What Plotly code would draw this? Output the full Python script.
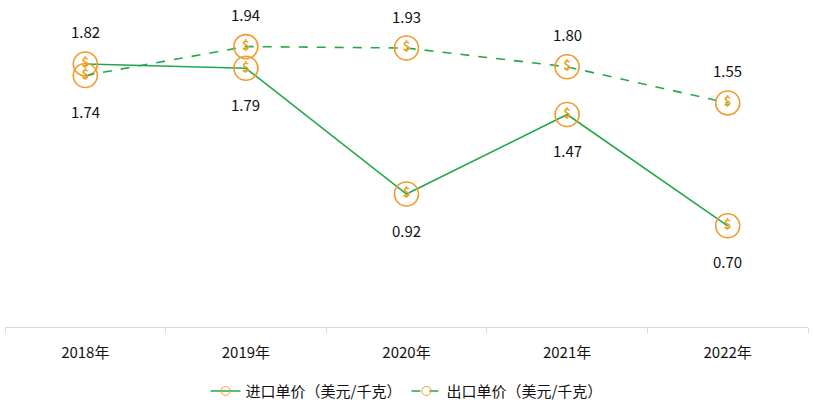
import plotly.graph_objs as go

years = ["2018年", "2019年", "2020年", "2021年", "2022年"]
import_price = [1.82, 1.79, 0.92, 1.47, 0.70]
export_price = [1.74, 1.94, 1.93, 1.80, 1.55]
import_label_up = [True, False, False, False, False]
export_label_up = [False, True, True, True, True]

green = "#22a84a"
orange = "#f39a2b"
font = "Noto Sans CJK SC"

fig = go.Figure()
for name, vals, dash, ups in [
    ("进口单价（美元/千克）", import_price, "solid", import_label_up),
    ("出口单价（美元/千克）", export_price, "dash", export_label_up),
]:
    fig.add_trace(go.Scatter(
        x=years, y=vals, mode="lines+markers+text", showlegend=False, cliponaxis=False,
        line=dict(color=green, width=1.6, dash=dash),
        marker=dict(symbol="circle-open", size=24, color=orange, line=dict(width=1.6)),
        text=["<b>$</b>"] * len(vals), textposition="middle center",
        textfont=dict(color="#eda320", size=13, family=font),
    ))
    # legend entry with small marker
    fig.add_trace(go.Scatter(
        x=[None], y=[None], name=name, mode="lines+markers",
        line=dict(color=green, width=1.6, dash=dash),
        marker=dict(symbol="circle-open", size=9, color=orange, line=dict(width=1)),
    ))
    for yr, v, up in zip(years, vals, ups):
        fig.add_annotation(x=yr, y=v, text=f"{v:.2f}", showarrow=False,
                           yshift=32 if up else -36,
                           font=dict(color="#111", size=15, family=font))

fig.update_layout(
    width=814, height=407,
    margin=dict(l=5, r=6, t=9, b=80, autoexpand=False),
    plot_bgcolor="white", paper_bgcolor="white",
    font=dict(family=font, size=15, color="#111"),
    legend=dict(orientation="h", x=0.5, xanchor="center", y=-0.15, yanchor="top",
                font=dict(size=15)),
    xaxis=dict(range=[-0.5, 4.5], showline=True, linecolor="#d9d9d9", ticks="outside",
               tickcolor="#d9d9d9", tickson="boundaries", ticklen=5, showgrid=False,
               tickfont=dict(size=15), ticklabelstandoff=12),
    yaxis=dict(range=[0, 2.2], visible=False),
)

# page body margin would shift the fixed-size figure
fig.write_html("out.html", config={"displayModeBar": False},
               post_script="document.body.style.margin='0';")
